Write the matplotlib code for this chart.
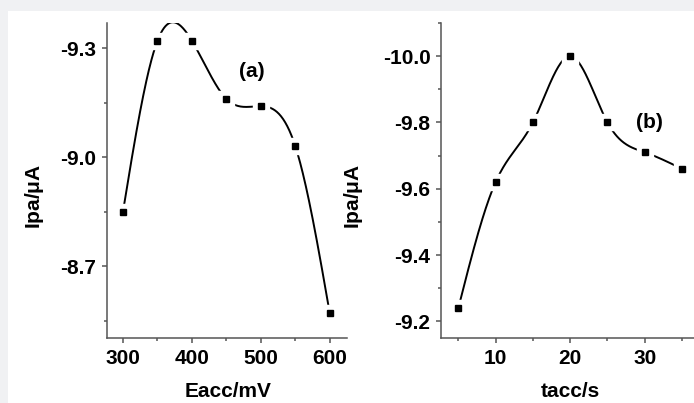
import numpy as np
import matplotlib.pyplot as plt
from matplotlib.patches import Rectangle
from matplotlib.ticker import MultipleLocator

plt.rcParams['font.family'] = ['Liberation Sans', 'DejaVu Sans']
plt.rcParams['font.weight'] = 'bold'
plt.rcParams['font.size'] = 15

# accumulation potential series (a)
eacc = [300, 350, 400, 450, 500, 550, 600]
ipa_e = [-8.85, -9.32, -9.32, -9.16, -9.14, -9.03, -8.57]

# accumulation time series (b)
tacc = [5, 10, 15, 20, 25, 30, 35]
ipa_t = [-9.24, -9.62, -9.80, -10.0, -9.80, -9.71, -9.66]


def natural_spline(x, y, n=400):
    # plain natural cubic spline, no scipy needed
    x = np.asarray(x, float)
    y = np.asarray(y, float)
    m = len(x)
    h = np.diff(x)
    A = np.zeros((m, m))
    b = np.zeros(m)
    A[0, 0] = A[-1, -1] = 1.0
    for i in range(1, m - 1):
        A[i, i - 1] = h[i - 1]
        A[i, i] = 2 * (h[i - 1] + h[i])
        A[i, i + 1] = h[i]
        b[i] = 6 * ((y[i + 1] - y[i]) / h[i] - (y[i] - y[i - 1]) / h[i - 1])
    M = np.linalg.solve(A, b)
    xs = np.linspace(x[0], x[-1], n)
    k = np.clip(np.searchsorted(x, xs) - 1, 0, m - 2)
    t0 = x[k + 1] - xs
    t1 = xs - x[k]
    hk = h[k]
    ys = (M[k] * t0 ** 3 / (6 * hk) + M[k + 1] * t1 ** 3 / (6 * hk)
          + (y[k] / hk - M[k] * hk / 6) * t0
          + (y[k + 1] / hk - M[k + 1] * hk / 6) * t1)
    return xs, ys


def draw_series(ax, x, y):
    xs, ys = natural_spline(x, y)
    ax.plot(xs, ys, color='black', lw=1.4, zorder=2)
    # white squares leave a small gap where the curve meets each point
    ax.plot(x, y, 's', ms=11, color='white', mec='white', zorder=3)
    ax.plot(x, y, 's', ms=5, color='black', zorder=4)


def style_axes(ax):
    for side in ('top', 'right'):
        ax.spines[side].set_visible(False)
    for side in ('left', 'bottom'):
        ax.spines[side].set_color('#555555')
        ax.spines[side].set_linewidth(1.1)
    ax.tick_params(which='both', direction='out', color='#555555', width=1.1)
    ax.tick_params(which='major', length=3.6, pad=4)
    ax.tick_params(which='minor', length=2.2)
    for lbl in ax.get_xticklabels() + ax.get_yticklabels():
        lbl.set_fontweight('bold')


fig = plt.figure(figsize=(6.94, 4.03), dpi=100)
fig.patch.set_facecolor('#f0f1f3')
fig.patches.append(Rectangle((8 / 694, 0), 1, 1 - 11 / 403, transform=fig.transFigure,
                             facecolor='white', edgecolor='none', zorder=-10))

ax1 = fig.add_axes([107 / 694, 65 / 403, 240 / 694, 315 / 403])
ax2 = fig.add_axes([441 / 694, 65 / 403, 253 / 694, 315 / 403])
for ax in (ax1, ax2):
    ax.patch.set_alpha(0)

draw_series(ax1, eacc, ipa_e)
ax1.set_xlim(276.8, 625)
ax1.set_ylim(-8.502, -9.369)
ax1.xaxis.set_major_locator(MultipleLocator(100))
ax1.xaxis.set_minor_locator(MultipleLocator(50))
ax1.yaxis.set_major_locator(MultipleLocator(0.3))
ax1.yaxis.set_minor_locator(MultipleLocator(0.15))
ax1.yaxis.set_major_formatter(plt.FormatStrFormatter('%.1f'))
ax1.set_xlabel('Eacc/mV', fontweight='bold')
ax1.set_ylabel(r'Ipa/$\mathregular{\mu}$A', fontweight='bold')
ax1.xaxis.set_label_coords(0.504, -0.14)
ax1.yaxis.set_label_coords(-0.255, 0.45)
ax1.text(487, -9.235, '(a)', ha='center', va='center', fontweight='bold')
style_axes(ax1)

draw_series(ax2, tacc, ipa_t)
ax2.set_xlim(2.68, 36.6)
ax2.set_ylim(-9.15, -10.1)
ax2.xaxis.set_major_locator(MultipleLocator(10))
ax2.xaxis.set_minor_locator(MultipleLocator(5))
ax2.yaxis.set_major_locator(MultipleLocator(0.2))
ax2.yaxis.set_minor_locator(MultipleLocator(0.1))
ax2.yaxis.set_major_formatter(plt.FormatStrFormatter('%.1f'))
ax2.set_xlabel('tacc/s', fontweight='bold')
ax2.set_ylabel(r'Ipa/$\mathregular{\mu}$A', fontweight='bold')
ax2.xaxis.set_label_coords(0.51, -0.14)
ax2.yaxis.set_label_coords(-0.30, 0.45)
ax2.text(30.6, -9.8, '(b)', ha='center', va='center', fontweight='bold')
style_axes(ax2)

fig.savefig('out.png', dpi=100, facecolor=fig.get_facecolor())
